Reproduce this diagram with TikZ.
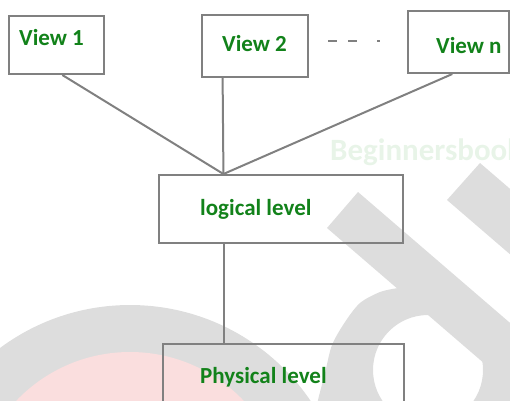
\documentclass[tikz,border=0pt]{standalone}
\usepackage{fontspec}
\setmainfont{Carlito}
\usetikzlibrary{calc}
\definecolor{lg}{RGB}{128,128,128}
\definecolor{tg}{RGB}{18,130,26}
\definecolor{wm}{RGB}{221,221,221}
\definecolor{wp}{RGB}{250,222,222}
\definecolor{wt}{RGB}{232,244,232}
\begin{document}
\begin{tikzpicture}[x=1pt,y=-1pt,
  box/.style={draw=lg,line width=2pt,inner sep=0pt},
  lbl/.style={font=\bfseries\fontsize{23}{23}\selectfont,text=tg,anchor=base west,inner sep=0pt},
  link/.style={draw=lg,line width=2pt}]
\useasboundingbox (0,0) rectangle (510,400);
\begin{scope}
\clip (0,0) rectangle (510,400);
% watermark
\fill[wm] (130,523) circle[radius=218pt];
\fill[wp] (130,509) circle[radius=157pt];
\fill[wm,even odd rule] plot[smooth] coordinates {(398,288) (380,292) (360,303) (345,322) (332,345) (325,373) (318,400) (316,412)} -- (520,412) -- (520,340) -- cycle
  (428,370) circle[radius=55pt];
\fill[wm] (327,228) -- (358,192) -- (574,378) -- (543,414) -- cycle;
\fill[wm] (447,200) -- (480,163) -- (696,349) -- (663,386) -- cycle;
\node[font=\bfseries\fontsize{31}{31}\selectfont,text=wt,anchor=base west,inner sep=0pt] (wmt) at (330,160) {Beginnersbook};
% boxes
\node[box,minimum width=95pt,minimum height=58pt] (v1) at (56.5,45) {};
\node[box,minimum width=106pt,minimum height=62pt] (v2) at (255,46) {};
\node[box,minimum width=101pt,minimum height=62pt] (vn) at (458.5,42) {};
\node[box,minimum width=244pt,minimum height=68pt] (lg) at (281,209) {};
\node[box,minimum width=241pt,minimum height=76pt] (ph) at (283.5,382) {};
% labels
\node[lbl] (t1) at (19,45) {View 1};
\node[lbl] (t2) at (222,51) {View 2};
\node[lbl] (tn) at (436,53) {View n};
\node[lbl] (tl) at (200,215) {logical level};
\node[lbl] (tp) at (200,383) {Physical level};
% dots
\draw[lg,line width=2.5pt] (328,41) -- (337,41) (348,41) -- (357,41) (377,41) -- (380,41);
% connectors
\coordinate (hub) at ($(lg.north west)!0.266!(lg.north east)$);
\draw[link] ($(v1.south west)!0.56!(v1.south east)$) -- (hub);
\draw[link] ($(v2.south west)!0.2!(v2.south east)$) -- (hub);
\draw[link] ($(vn.south west)!0.44!(vn.south east)$) -- (hub);
\coordinate (ls) at ($(lg.south west)!0.27!(lg.south east)$);
\draw[link] (ls) -- (ls |- ph.north);
\end{scope}
\end{tikzpicture}
\end{document}
